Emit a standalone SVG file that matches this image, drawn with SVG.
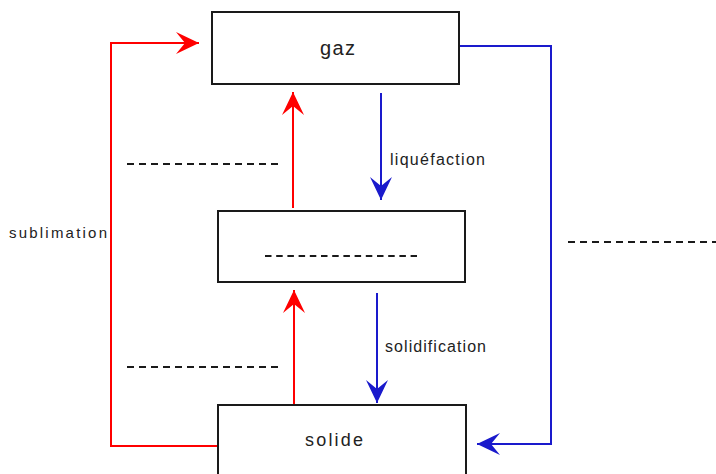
<svg xmlns="http://www.w3.org/2000/svg" width="716" height="474" viewBox="0 0 716 474">
  <style>
    .box { fill: #ffffff; stroke: #1a1a1a; stroke-width: 2; }
    .red { fill: none; stroke: #ff0000; stroke-width: 2; }
    .blue { fill: none; stroke: #1a1acc; stroke-width: 2; }
    .dash { fill: none; stroke: #1a1a1a; stroke-width: 2; stroke-dasharray: 7 5; }
    .dash-in { fill: none; stroke: #1a1a1a; stroke-width: 2; stroke-dasharray: 6.5 4.7; }
    .lbl { font-family: "Liberation Sans", Arial, sans-serif; fill: #222222; }
  </style>
  <defs>
    <marker id="arrRed" markerUnits="userSpaceOnUse" viewBox="-25 -12 26 24" refX="0" refY="0" markerWidth="26" markerHeight="24" orient="auto">
      <path d="M0,0 L-23,-11 L-14,0 L-23,11 Z" fill="#ff0000"/>
    </marker>
    <marker id="arrBlue" markerUnits="userSpaceOnUse" viewBox="-25 -12 26 24" refX="0" refY="0" markerWidth="26" markerHeight="24" orient="auto">
      <path d="M0,0 L-23,-11 L-14,0 L-23,11 Z" fill="#1a1acc"/>
    </marker>
  </defs>

  <g id="connectors">
    <!-- sublimation: solide -> gaz -->
    <path class="red" d="M218,446 H111 V43 H199" marker-end="url(#arrRed)"/>
    <!-- middle -> gaz -->
    <path class="red" d="M293,208 V92" marker-end="url(#arrRed)"/>
    <!-- solide -> middle -->
    <path class="red" d="M294,405 V290" marker-end="url(#arrRed)"/>
    <!-- liquéfaction -->
    <path class="blue" d="M381,93 V200" marker-end="url(#arrBlue)"/>
    <!-- solidification -->
    <path class="blue" d="M377,293 V403" marker-end="url(#arrBlue)"/>
    <!-- gaz -> solide -->
    <path class="blue" d="M459,46 H551 V444 H477" marker-end="url(#arrBlue)"/>
  </g>

  <g id="node-gaz">
    <rect class="box" x="212" y="12" width="247" height="72"/>
    <text class="lbl" x="320" y="55" font-size="20" textLength="35" lengthAdjust="spacing">gaz</text>
  </g>

  <g id="node-middle">
    <rect class="box" x="218" y="211" width="247" height="71"/>
    <path class="dash-in" d="M265,256 H417"/>
  </g>

  <g id="node-solide">
    <rect class="box" x="218" y="405" width="248" height="80"/>
    <text class="lbl" x="305" y="446" font-size="18" textLength="58" lengthAdjust="spacing">solide</text>
  </g>

  <g id="labels">
    <text class="lbl" x="390" y="165" font-size="16" textLength="95" lengthAdjust="spacing">liquéfaction</text>
    <text class="lbl" x="385" y="352" font-size="16" textLength="101" lengthAdjust="spacing">solidification</text>
    <text class="lbl" x="9" y="238" font-size="15" textLength="98" lengthAdjust="spacing">sublimation</text>
  </g>

  <g id="blanks">
    <path class="dash" d="M127,164 H278"/>
    <path class="dash" d="M127,367 H278"/>
    <path class="dash" d="M568,242 H716"/>
  </g>
</svg>
